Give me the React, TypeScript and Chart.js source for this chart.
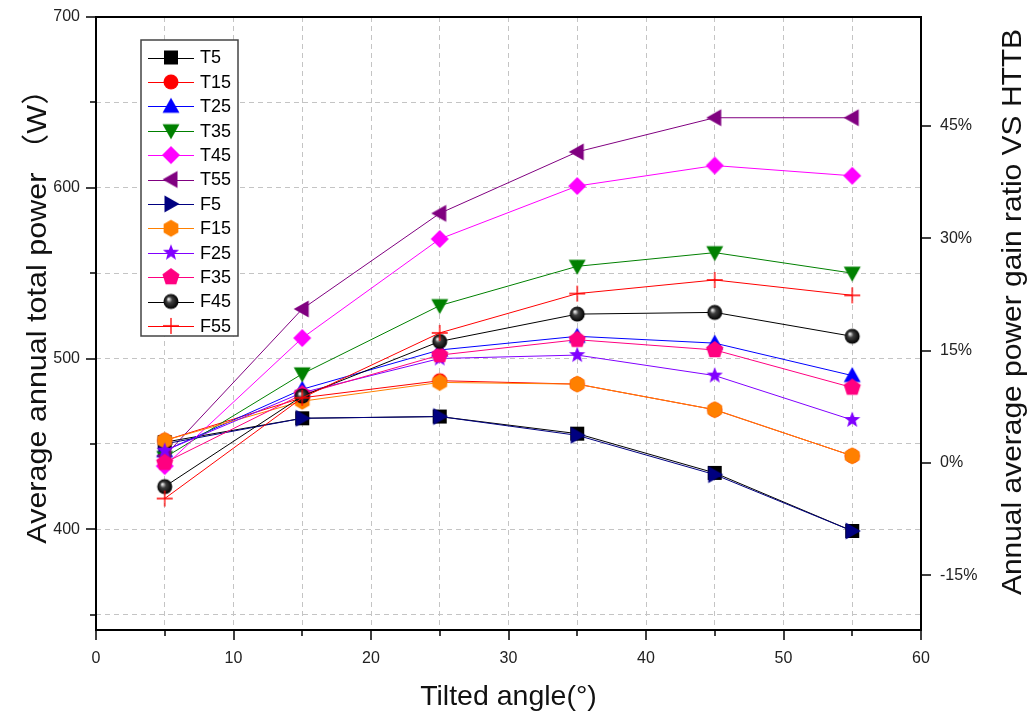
import React, { useEffect, useRef } from 'react';
import { Chart, registerables } from 'chart.js';

Chart.register(...registerables);

// ---------- data ----------
const angles = [5, 15, 25, 35, 45, 55];
const seriesNames = ['T5', 'T15', 'T25', 'T35', 'T45', 'T55', 'F5', 'F15', 'F25', 'F35', 'F45', 'F55'];
const T5 = [451, 465, 466, 456, 433, 399];
const T15 = [452, 477, 487, 485, 470, 443];
const T25 = [446, 482, 505, 513, 509, 490];
const T35 = [442, 491, 531, 554, 562, 550];
const T45 = [437, 512, 570, 601, 613, 607];
const T55 = [443, 529, 585, 621, 641, 641];
const F5 = [450, 465, 466, 455, 432, 399];
const F15 = [452, 475, 486, 485, 470, 443];
const F25 = [446, 480, 500, 502, 490, 464];
const F35 = [439, 479, 502, 511, 505, 483];
const F45 = [425, 478, 510, 526, 527, 513];
const F55 = [418, 477, 515, 538, 546, 537];
const seriesValues = [T5, T15, T25, T35, T45, T55, F5, F15, F25, F35, F45, F55];

const yTickValues = [350, 400, 450, 500, 550, 600, 650, 700];
const xTickValues = [0, 5, 10, 15, 20, 25, 30, 35, 40, 45, 50, 55, 60];
const rightTickValues = [-15, 0, 15, 30, 45];
const baselinePower = 438.8; // 0% of the right axis
const leftMin = 341;
const leftMax = 700;

const xTitle = 'Tilted angle(°)';
const yTitle = 'Average annual total power （W）';
const y2Title = 'Annual average power gain ratio VS HTTB';

// ---------- styles ----------
const seriesColors = ['#000000', '#ff0000', '#0000ff', '#008000', '#ff00ff', '#800080', '#000080', '#ff8000', '#8000ff', '#ff0080', '#000000', '#ff0000'];
const seriesMarkers = ['square', 'circle', 'up', 'down', 'diamond', 'left', 'right', 'hexagon', 'star', 'pentagon', 'sphere', 'cross'];

const FONT = '"Liberation Sans", Arial, "Noto Sans CJK SC", sans-serif';

function makeMarker(kind: string, color: string): HTMLCanvasElement {
  const S = 24;
  const c = document.createElement('canvas');
  c.width = S;
  c.height = S;
  const g = c.getContext('2d')!;
  const cx = S / 2;
  const cy = S / 2;
  g.fillStyle = color;
  g.strokeStyle = color;
  const poly = (pts: number[][]) => {
    g.beginPath();
    pts.forEach(([x, y], i) => (i ? g.lineTo(cx + x, cy + y) : g.moveTo(cx + x, cy + y)));
    g.closePath();
    g.fill();
  };
  const regular = (n: number, r: number, start: number) => {
    const pts: number[][] = [];
    for (let i = 0; i < n; i++) {
      const a = start + (i * 2 * Math.PI) / n;
      pts.push([r * Math.cos(a), r * Math.sin(a)]);
    }
    poly(pts);
  };
  switch (kind) {
    case 'square':
      g.fillRect(cx - 7, cy - 7, 14, 14);
      break;
    case 'circle':
      g.beginPath();
      g.arc(cx, cy, 7.5, 0, Math.PI * 2);
      g.fill();
      break;
    case 'up':
      poly([[0, -8.5], [8.5, 6.5], [-8.5, 6.5]]);
      break;
    case 'down':
      poly([[0, 8.5], [8.5, -6.5], [-8.5, -6.5]]);
      break;
    case 'left':
      poly([[-8.5, 0], [6.5, -8.5], [6.5, 8.5]]);
      break;
    case 'right':
      poly([[8.5, 0], [-6.5, -8.5], [-6.5, 8.5]]);
      break;
    case 'diamond':
      poly([[0, -9], [9, 0], [0, 9], [-9, 0]]);
      break;
    case 'hexagon':
      regular(6, 8.5, -Math.PI / 2);
      break;
    case 'pentagon':
      regular(5, 9, -Math.PI / 2);
      break;
    case 'star': {
      const pts: number[][] = [];
      for (let i = 0; i < 10; i++) {
        const r = i % 2 === 0 ? 8.5 : 3.6;
        const a = -Math.PI / 2 + (i * Math.PI) / 5;
        pts.push([r * Math.cos(a), r * Math.sin(a)]);
      }
      poly(pts);
      break;
    }
    case 'sphere': {
      const grad = g.createRadialGradient(cx - 2.5, cy - 2.5, 0.5, cx, cy, 7.5);
      grad.addColorStop(0, '#f0f0f0');
      grad.addColorStop(0.35, '#404040');
      grad.addColorStop(1, '#000000');
      g.fillStyle = grad;
      g.beginPath();
      g.arc(cx, cy, 7.5, 0, Math.PI * 2);
      g.fill();
      break;
    }
    case 'cross':
      g.lineWidth = 1.3;
      g.beginPath();
      g.moveTo(cx - 8, cy);
      g.lineTo(cx + 8, cy);
      g.moveTo(cx, cy - 8);
      g.lineTo(cx, cy + 8);
      g.stroke();
      break;
  }
  return c;
}

function makeFramePlugin(markers: HTMLCanvasElement[]) {
  return {
    id: 'frameAndTitles',
    afterDatasetsDraw(chart: any) {
      const { ctx } = chart;
      ctx.save();
      const bx = 141, by = 40, bw = 97, bh = 296;
      ctx.fillStyle = '#ffffff';
      ctx.fillRect(bx, by, bw, bh);
      ctx.strokeStyle = '#444444';
      ctx.lineWidth = 1.5;
      ctx.strokeRect(bx, by, bw, bh);
      ctx.font = `18px ${FONT}`;
      ctx.textBaseline = 'middle';
      ctx.textAlign = 'left';
      seriesNames.forEach((name, i) => {
        const y = 57.5 + i * 24.4;
        ctx.strokeStyle = seriesColors[i];
        ctx.lineWidth = 1;
        ctx.beginPath();
        ctx.moveTo(148, Math.round(y) + 0.5);
        ctx.lineTo(194, Math.round(y) + 0.5);
        ctx.stroke();
        const m = markers[i];
        ctx.drawImage(m, 171 - m.width / 2, y - m.height / 2);
        ctx.fillStyle = '#000000';
        ctx.fillText(name, 200, y + 1);
      });
      ctx.restore();
    },
    afterDraw(chart: any) {
      const { ctx, chartArea: a, scales } = chart;
      ctx.save();
      ctx.strokeStyle = '#000000';
      ctx.lineWidth = 2;
      ctx.strokeRect(a.left, a.top, a.right - a.left, a.bottom - a.top);
      ctx.lineWidth = 1.5;
      const seg = (x1: number, y1: number, x2: number, y2: number) => {
        ctx.beginPath();
        ctx.moveTo(x1, y1);
        ctx.lineTo(x2, y2);
        ctx.stroke();
      };
      yTickValues.forEach((v) => {
        const y = Math.round(scales.y.getPixelForValue(v));
        const len = v % 100 === 0 ? 10 : 6;
        seg(a.left - len, y, a.left, y);
      });
      xTickValues.forEach((v) => {
        const x = Math.round(scales.x.getPixelForValue(v));
        const len = v % 10 === 0 ? 10 : 6;
        seg(x, a.bottom, x, a.bottom + len);
      });
      rightTickValues.forEach((v) => {
        const y = Math.round(scales.y2.getPixelForValue(v));
        seg(a.right, y, a.right + 10, y);
      });
      ctx.fillStyle = '#111111';
      ctx.textAlign = 'center';
      ctx.textBaseline = 'middle';
      ctx.font = `28.5px ${FONT}`;
      ctx.fillText(xTitle, (a.left + a.right) / 2, 697);
      ctx.font = `28px ${FONT}`;
      ctx.save();
      ctx.translate(38, 309);
      ctx.rotate(-Math.PI / 2);
      ctx.scale(1.09, 1);
      ctx.fillText(yTitle, 0, 0);
      ctx.restore();
      ctx.save();
      ctx.translate(1013, 312);
      ctx.rotate(-Math.PI / 2);
      ctx.scale(1.07, 1);
      ctx.fillText(y2Title, 0, 0);
      ctx.restore();
      ctx.restore();
    },
  };
}

const zeroVPad = (s: any, w: number) => {
  s.width = w;
  s.paddingTop = 0;
  s.paddingBottom = 0;
};

export default function App() {
  const ref = useRef<HTMLCanvasElement | null>(null);
  useEffect(() => {
    if (!ref.current) return;
    const markers = seriesMarkers.map((m, i) => makeMarker(m, seriesColors[i]));
    const datasets = seriesNames.map((name, i) => ({
      label: name,
      data: angles.map((x, j) => ({ x, y: seriesValues[i][j] })),
      borderColor: seriesColors[i],
      backgroundColor: seriesColors[i],
      borderWidth: 1,
      pointStyle: markers[i],
      pointRadius: 8,
      tension: 0,
      order: seriesNames.length - 1 - i,
      yAxisID: 'y',
      xAxisID: 'x',
    }));
    const tickFont = { family: FONT, size: 16 };
    const gridCommon = { color: '#c4c4c4', lineWidth: 1, drawTicks: false };
    const chart = new Chart(ref.current, {
      type: 'line',
      data: { datasets },
      options: {
        animation: false,
        responsive: false,
        devicePixelRatio: 1,
        layout: { autoPadding: false, padding: { top: 17, left: 0, right: 0, bottom: 0 } },
        plugins: { legend: { display: false }, tooltip: { enabled: false }, title: { display: false } },
        events: [],
        scales: {
          x: {
            type: 'linear',
            min: 0,
            max: 60,
            afterBuildTicks: (s: any) => { s.ticks = xTickValues.map((v) => ({ value: v })); },
            afterFit: (s: any) => { s.height = 88; s.paddingLeft = 0; s.paddingRight = 0; },
            ticks: {
              autoSkip: false,
              maxRotation: 0,
              padding: 19,
              color: '#222222',
              font: tickFont,
              callback: (v: any) => (Number(v) % 10 === 0 ? String(v) : ''),
            },
            grid: gridCommon,
            border: { display: false, dash: [5, 4] },
          },
          y: {
            type: 'linear',
            position: 'left',
            min: leftMin,
            max: leftMax,
            afterBuildTicks: (s: any) => { s.ticks = yTickValues.map((v) => ({ value: v })); },
            afterFit: (s: any) => zeroVPad(s, 96),
            ticks: {
              padding: 16,
              color: '#222222',
              font: tickFont,
              callback: (v: any) => (Number(v) % 100 === 0 ? String(v) : ''),
            },
            grid: gridCommon,
            border: { display: false, dash: [5, 4] },
          },
          y2: {
            type: 'linear',
            position: 'right',
            min: (leftMin / baselinePower - 1) * 100,
            max: (leftMax / baselinePower - 1) * 100,
            afterBuildTicks: (s: any) => { s.ticks = rightTickValues.map((v) => ({ value: v })); },
            afterFit: (s: any) => zeroVPad(s, 109),
            ticks: {
              padding: 19,
              color: '#222222',
              font: tickFont,
              callback: (v: any) => `${v}%`,
            },
            grid: { display: false, drawTicks: false },
            border: { display: false },
          },
        },
      },
      plugins: [makeFramePlugin(markers)],
    } as any);
    return () => chart.destroy();
  }, []);
  return (
    <div style={{ position: 'absolute', left: 0, top: 0, width: 1030, height: 718, background: '#fff' }}>
      <canvas ref={ref} width={1030} height={718} style={{ width: 1030, height: 718, display: 'block' }} />
    </div>
  );
}
